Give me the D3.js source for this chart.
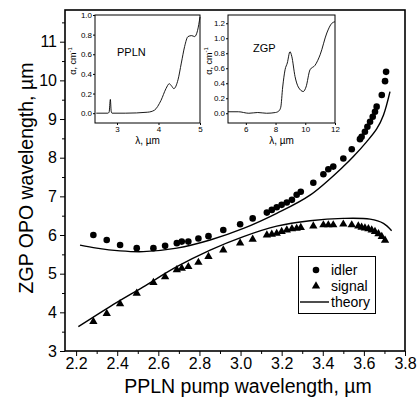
<!DOCTYPE html>
<html>
<head>
<meta charset="utf-8">
<script src="https://cdn.jsdelivr.net/npm/d3@7"></script>
<style>
  body { margin: 0; background: #fff; }
  svg { font-family: "Liberation Sans", Arial, sans-serif; }
  .axis path, .axis line { stroke: #000; }
</style>
</head>
<body>
<svg id="chart" width="417" height="404"></svg>
<script>
// main chart data: pump wavelength (um) vs ZGP OPO wavelength (um)
var idlerPump = [2.284, 2.349, 2.414, 2.495, 2.576, 2.633, 2.690, 2.714, 2.746, 2.795, 2.844, 2.916, 2.998, 3.059, 3.128, 3.152, 3.176, 3.200, 3.225, 3.250, 3.273, 3.293, 3.354, 3.403, 3.427, 3.451, 3.500, 3.541, 3.581, 3.589, 3.605, 3.617, 3.630, 3.643, 3.654, 3.662, 3.687, 3.703, 3.708];
var idlerWl   = [6.00, 5.87, 5.74, 5.66, 5.66, 5.72, 5.79, 5.83, 5.83, 5.91, 5.97, 6.13, 6.28, 6.43, 6.58, 6.65, 6.72, 6.78, 6.84, 6.91, 7.04, 7.12, 7.35, 7.57, 7.70, 7.77, 7.98, 8.22, 8.48, 8.54, 8.67, 8.80, 8.93, 9.06, 9.19, 9.32, 9.62, 9.98, 10.22];
var signalPump = [2.284, 2.349, 2.414, 2.495, 2.576, 2.633, 2.690, 2.714, 2.746, 2.795, 2.844, 2.916, 2.998, 3.059, 3.128, 3.152, 3.176, 3.200, 3.225, 3.250, 3.273, 3.293, 3.354, 3.403, 3.427, 3.451, 3.500, 3.541, 3.573, 3.589, 3.605, 3.622, 3.638, 3.654, 3.671, 3.687, 3.703];
var signalWl   = [3.76, 3.97, 4.22, 4.49, 4.77, 4.92, 5.10, 5.14, 5.18, 5.29, 5.44, 5.61, 5.79, 5.89, 6.00, 6.02, 6.04, 6.09, 6.13, 6.16, 6.17, 6.19, 6.23, 6.26, 6.26, 6.26, 6.28, 6.26, 6.23, 6.20, 6.18, 6.16, 6.13, 6.09, 6.03, 5.96, 5.86];
var theoryIdlerPump = [2.219, 2.300, 2.414, 2.527, 2.690, 2.852, 3.014, 3.176, 3.338, 3.500, 3.549, 3.613, 3.663, 3.695, 3.727];
var theoryIdlerWl   = [5.74, 5.66, 5.59, 5.57, 5.66, 5.87, 6.17, 6.56, 7.03, 7.77, 8.03, 8.41, 8.75, 9.10, 9.71];
var theorySignalPump = [2.211, 2.365, 2.527, 2.690, 2.852, 3.014, 3.176, 3.338, 3.500, 3.630, 3.695, 3.735];
var theorySignalWl   = [3.63, 4.15, 4.66, 5.18, 5.61, 5.96, 6.23, 6.37, 6.43, 6.41, 6.30, 6.11];

var xTicks = [2.2, 2.4, 2.6, 2.8, 3.0, 3.2, 3.4, 3.6, 3.8];
var yTicks = [3, 4, 5, 6, 7, 8, 9, 10, 11];

// inset absorption spectra
var pplnLambda = [2.50, 2.78, 2.81, 2.84, 2.86, 2.88, 3.20, 3.74, 3.90, 4.06, 4.18, 4.26, 4.31, 4.37, 4.47, 4.55, 4.63, 4.71, 4.80, 4.87, 4.94, 5.00];
var pplnAlpha  = [0.00, 0.00, 0.01, 0.14, 0.02, 0.00, 0.00, 0.01, 0.03, 0.13, 0.25, 0.30, 0.28, 0.25, 0.34, 0.51, 0.68, 0.78, 0.79, 0.78, 0.84, 0.98];
var zgpLambda = [4.80, 5.50, 6.20, 6.80, 7.40, 8.00, 8.22, 8.35, 8.48, 8.64, 8.79, 8.97, 9.09, 9.31, 9.53, 9.87, 10.05, 10.32, 10.66, 11.00, 11.45, 11.79, 12.00];
var zgpAlpha  = [0.02, 0.02, 0.00, 0.01, 0.00, 0.01, 0.03, 0.08, 0.35, 0.58, 0.67, 0.82, 0.76, 0.49, 0.35, 0.29, 0.35, 0.58, 0.64, 0.78, 1.07, 1.20, 1.22];
var pplnTicksX = [3, 4, 5];
var zgpTicksX = [6, 8, 10, 12];
var pplnTicksY = [0.0, 0.2, 0.4, 0.6, 0.8, 1.0];
var zgpTicksY = [0.0, 0.2, 0.4, 0.6, 0.8, 1.0, 1.2];

var svg = d3.select("#chart");

var x = d3.scaleLinear().domain([2.146, 3.8]).range([65, 405]);
var y = d3.scaleLinear().domain([3, 11.82]).range([351, 10]);

// frame
svg.append("rect")
  .attr("x", 65).attr("y", 10)
  .attr("width", 340).attr("height", 341)
  .attr("fill", "none").attr("stroke", "#000").attr("stroke-width", 1.6);

// x axis
var xMinor = d3.range(2.3, 3.8, 0.2);
svg.append("g").attr("class", "axis")
  .attr("transform", "translate(0,351)")
  .call(d3.axisBottom(x).tickValues(xMinor).tickSize(3).tickFormat(""))
  .call(function(g) { g.select(".domain").remove(); });
svg.append("g").attr("class", "axis")
  .attr("transform", "translate(0,351)")
  .call(d3.axisBottom(x).tickValues(xTicks).tickSize(5).tickPadding(2).tickFormat(d3.format(".1f")))
  .call(function(g) {
    g.select(".domain").remove();
    g.selectAll("text").attr("font-size", 16).attr("fill", "#000");
  });

// y axis
var yMinor = d3.range(3.5, 11.6, 1);
svg.append("g").attr("class", "axis")
  .attr("transform", "translate(65,0)")
  .call(d3.axisLeft(y).tickValues(yMinor).tickSize(3).tickFormat(""))
  .call(function(g) { g.select(".domain").remove(); });
svg.append("g").attr("class", "axis")
  .attr("transform", "translate(65,0)")
  .call(d3.axisLeft(y).tickValues(yTicks).tickSize(5).tickPadding(3))
  .call(function(g) {
    g.select(".domain").remove();
    g.selectAll("text").attr("font-size", 16).attr("fill", "#000");
  });

// axis titles
svg.append("text")
  .attr("x", 248).attr("y", 393)
  .attr("text-anchor", "middle")
  .attr("font-size", 19.5)
  .text("PPLN pump wavelength, \u00b5m");
svg.append("text")
  .attr("transform", "translate(33,178) rotate(-90)")
  .attr("text-anchor", "middle")
  .attr("font-size", 19.5)
  .text("ZGP OPO wavelength, \u00b5m");

// theory curves
var line = d3.line()
  .x(function(d) { return x(d[0]); })
  .y(function(d) { return y(d[1]); })
  .curve(d3.curveCatmullRom);

svg.append("path")
  .datum(d3.zip(theoryIdlerPump, theoryIdlerWl))
  .attr("d", line)
  .attr("fill", "none").attr("stroke", "#000").attr("stroke-width", 1.4);
svg.append("path")
  .datum(d3.zip(theorySignalPump, theorySignalWl))
  .attr("d", line)
  .attr("fill", "none").attr("stroke", "#000").attr("stroke-width", 1.4);

// idler points
svg.selectAll("circle.idler")
  .data(d3.zip(idlerPump, idlerWl))
  .enter()
  .append("circle")
  .attr("class", "idler")
  .attr("cx", function(d) { return x(d[0]); })
  .attr("cy", function(d) { return y(d[1]); })
  .attr("r", 3.3)
  .attr("fill", "#000");

// signal points
var tri = d3.symbol().type(d3.symbolTriangle).size(30);
svg.selectAll("path.signal")
  .data(d3.zip(signalPump, signalWl))
  .enter()
  .append("path")
  .attr("class", "signal")
  .attr("transform", function(d) { return "translate(" + x(d[0]) + "," + y(d[1]) + ")"; })
  .attr("d", tri)
  .attr("fill", "#000");

// legend
var legend = svg.append("g");
legend.append("rect")
  .attr("x", 298.5).attr("y", 256.5)
  .attr("width", 77).attr("height", 57)
  .attr("fill", "#fff").attr("stroke", "#000").attr("stroke-width", 1);
legend.append("circle").attr("cx", 316).attr("cy", 270).attr("r", 3.3).attr("fill", "#000");
legend.append("path").attr("transform", "translate(316,286)").attr("d", tri).attr("fill", "#000");
legend.append("line")
  .attr("x1", 300).attr("x2", 329).attr("y1", 302).attr("y2", 302)
  .attr("stroke", "#000").attr("stroke-width", 1.4);
[["idler", 270], ["signal", 286], ["theory", 302]].forEach(function(it) {
  legend.append("text")
    .attr("x", 331).attr("y", it[1] + 5)
    .attr("font-size", 14)
    .text(it[0]);
});

// insets
function drawInset(opts) {
  var ix = d3.scaleLinear().domain(opts.xDomain).range([opts.left, opts.right]);
  var iy = d3.scaleLinear().domain(opts.yDomain).range([opts.bottom, opts.top]);
  var g = svg.append("g");

  g.append("rect")
    .attr("x", opts.left).attr("y", opts.top)
    .attr("width", opts.right - opts.left).attr("height", opts.bottom - opts.top)
    .attr("fill", "#fff").attr("stroke", "#000").attr("stroke-width", 1);

  g.append("g").attr("class", "axis")
    .attr("transform", "translate(0," + opts.bottom + ")")
    .call(d3.axisBottom(ix).tickValues(opts.xTicks).tickSize(2).tickPadding(1).tickFormat(d3.format("d")))
    .call(function(a) {
      a.select(".domain").remove();
      a.selectAll("text").attr("font-size", 8).attr("fill", "#000");
    });
  g.append("g").attr("class", "axis")
    .attr("transform", "translate(" + opts.left + ",0)")
    .call(d3.axisLeft(iy).tickValues(opts.yTicks).tickSize(2).tickPadding(1).tickFormat(d3.format(".1f")))
    .call(function(a) {
      a.select(".domain").remove();
      a.selectAll("text").attr("font-size", 8).attr("fill", "#000");
    });

  var l = d3.line()
    .x(function(d) { return ix(d[0]); })
    .y(function(d) { return iy(d[1]); })
    .curve(d3.curveMonotoneX);
  g.append("path")
    .datum(d3.zip(opts.xs, opts.ys))
    .attr("d", l)
    .attr("fill", "none").attr("stroke", "#000").attr("stroke-width", 0.9);

  g.append("text")
    .attr("x", opts.nameX).attr("y", opts.nameY)
    .attr("font-size", 11)
    .text(opts.name);
  g.append("text")
    .attr("x", (opts.left + opts.right) / 2).attr("y", opts.bottom + 21)
    .attr("text-anchor", "middle")
    .attr("font-size", 10)
    .text("\u03bb, \u00b5m");
  var yl = g.append("text")
    .attr("transform", "translate(" + opts.ylabelX + "," + ((opts.top + opts.bottom) / 2 - 8) + ") rotate(-90)")
    .attr("text-anchor", "middle")
    .attr("font-size", 9);
  yl.append("tspan").text("\u03b1, cm");
  yl.append("tspan").attr("dy", -4).attr("font-size", 6).text("-1");
}

drawInset({
  xDomain: [2.47, 5], yDomain: [-0.1, 1.0],
  left: 95, right: 200, top: 15, bottom: 123,
  xTicks: pplnTicksX, yTicks: pplnTicksY,
  xs: pplnLambda, ys: pplnAlpha,
  name: "PPLN", nameX: 117, nameY: 56, ylabelX: 76
});
drawInset({
  xDomain: [4.8, 12], yDomain: [-0.13, 1.31],
  left: 228, right: 335, top: 15, bottom: 123,
  xTicks: zgpTicksX, yTicks: zgpTicksY,
  xs: zgpLambda, ys: zgpAlpha,
  name: "ZGP", nameX: 253, nameY: 52, ylabelX: 212
});
</script>
</body>
</html>
